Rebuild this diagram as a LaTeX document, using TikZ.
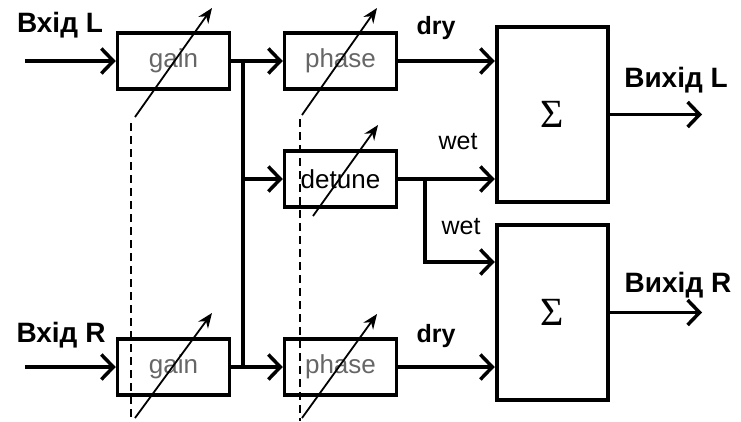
\documentclass[tikz,border=0pt]{standalone}
\usepackage{fontspec}
\setmainfont{Liberation Sans}
\newfontfamily\sigfont{Liberation Serif}
\usetikzlibrary{arrows.meta}
\begin{document}
\begin{tikzpicture}[x=1pt,y=-1pt,
  blk/.style={draw, line width=3.5pt, minimum width=112pt, minimum height=56pt, inner sep=0pt, font=\fontsize{26}{26}\selectfont, text=black!60},
  sumbox/.style={draw, line width=4.5pt, minimum width=111pt, minimum height=175pt, inner sep=0pt, font=\fontsize{40}{40}\sigfont},
  sig/.style={line width=3.5pt, line join=miter, -{Straight Barb[length=12pt,width=25pt,line width=3.5pt]}},
  wire/.style={line width=3.5pt},
  bus/.style={line width=4.5pt},
  var/.style={line width=1.8pt, -{Stealth[length=15pt,width=12pt]}},
  ctl/.style={line width=1.4pt, dash pattern=on 8pt off 5pt},
  lbl/.style={font=\fontsize{28}{28}\selectfont\bfseries, inner sep=0pt},
  sm/.style={font=\fontsize{25}{25}\selectfont, inner sep=0pt}
]
\useasboundingbox (0,0) rectangle (741,421);

% blocks
\node[blk] (gainL)  at (173.5,61) {gain};
\node[blk] (phaseL) at (340.5,61) {phase};
\node[blk, text=black] (detune) at (340.5,179) {detune};
\node[blk] (gainR)  at (173.5,367) {gain};
\node[blk] (phaseR) at (340.5,367) {phase};
\node[sumbox] (sumL) at (552.5,114.5) {Σ};
\node[sumbox] (sumR) at (552.5,312.5) {Σ};

% labels
\node[lbl] (tinL)  at (60,25)  {Вхід L};
\node[lbl] (tinR)  at (61,335) {Вхід R};
\node[lbl] (toutL) at (676,80) {Вихід L};
\node[lbl] (toutR) at (678,285) {Вихід R};
\node[sm, font=\fontsize{25}{25}\selectfont\bfseries] (dryL) at (436,28) {dry};
\node[sm, font=\fontsize{25}{25}\selectfont\bfseries] (dryR) at (436,336) {dry};
\node[sm] (wetL) at (458,142) {wet};
\node[sm] (wetR) at (461,227) {wet};

% junction coordinates
\coordinate (inL) at (25,61);
\coordinate (inR) at (25,367);
\coordinate (jL) at (243,61);
\coordinate (jR) at (243,367);
\coordinate (jD) at (425,179);
\coordinate (jW) at (425,262);
\coordinate (outL) at (702,114.5);
\coordinate (outR) at (702,312.5);

% signal paths
\draw[sig] (inL) -- (gainL.west);
\draw[sig] (inR) -- (gainR.west);
\draw[wire] (gainL.east) -- (jL);
\draw[wire] (gainR.east) -- (jR);
\draw[bus] (jL) -- (jR);
\draw[sig] (jL) -- (phaseL.west);
\draw[sig] (jR) -- (phaseR.west);
\draw[sig] (detune.west -| jL) -- (detune.west);
\draw[sig] (phaseL.east) -- (phaseL.east -| sumL.west);
\draw[sig] (phaseR.east) -- (phaseR.east -| sumR.west);
\draw[sig] (detune.east) -- (detune.east -| sumL.west);
\draw[sig] (jD) -- (jW) -- (jW -| sumR.west);
\draw[sig] (sumL.east) -- (outL);
\draw[sig] (sumR.east) -- (outR);

% control (variable) arrows
\draw[var] (135,117) -- (212,8);
\draw[var] (302,115) -- (377,8);
\draw[var] (313,216) -- (378,125);
\draw[var] (135,418) -- (212,313);
\draw[var] (302,418) -- (377,314);

% dashed linkage
\draw[ctl] (131,123) -- (131,421);
\draw[ctl] (300,119) -- (300,421);
\end{tikzpicture}
\end{document}
